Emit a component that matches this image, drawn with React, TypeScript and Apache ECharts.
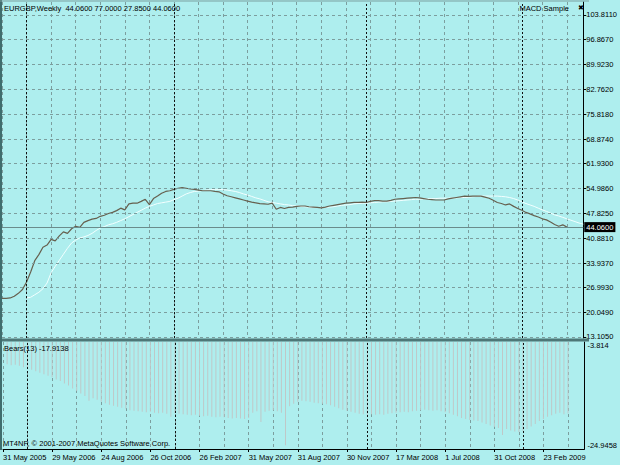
import React, { useEffect, useRef } from 'react';
import * as echarts from 'echarts';

const N = 143;
const dateLabels = ['31 May 2005', '29 May 2006', '24 Aug 2006', '26 Oct 2006', '26 Feb 2007', '31 May 2007', '31 Aug 2007', '30 Nov 2007', '17 Mar 2008', '1 Jul 2008', '31 Oct 2008', '23 Feb 2009'];
const yTicks = [13.105, 20.049, 26.993, 33.937, 40.881, 47.825, 54.986, 61.93, 68.874, 75.818, 82.762, 89.923, 96.867, 103.811];
const bearsTicks = [-3.814, -24.9458];
const lastPrice = 44.06;
const ohlc = ['44.0600', '77.0000', '27.8500', '44.0600'];

// close prices, from bar 0
const price = [
  24.0, 24.0, 24.1, 24.6, 25.4, 26.5, 28.6, 31.4, 34.6, 36.3,
  38.4, 39.0, 40.6, 40.2, 41.6, 42.7, 42.3, 43.6, 44.3, 44.0,
  45.4, 45.9, 46.3, 46.5, 47.1, 47.4, 47.9, 48.2, 48.7, 49.4,
  48.9, 50.6, 50.8, 50.8, 51.3, 51.9, 50.4, 52.1, 52.8, 53.6,
  54.1, 54.3, 54.7, 55.0, 55.2, 55.0, 54.8, 54.7, 54.5, 54.3,
  54.3, 54.3, 54.1, 54.0, 53.4, 52.9, 52.6, 52.3, 52.0, 51.7,
  51.4, 51.1, 50.9, 50.7, 50.6, 50.5, 50.8, 49.1, 49.6, 49.3,
  49.6, 49.7, 49.9, 50.0, 50.0, 49.8, 49.7, 49.6, 49.5, 49.7,
  50.0, 50.2, 50.4, 50.6, 50.8, 50.9, 51.0, 51.0, 51.1, 51.0,
  51.3, 51.5, 51.5, 51.4, 51.4, 51.6, 51.9, 52.0, 52.1, 52.2,
  52.3, 52.4, 52.3, 52.1, 51.9, 51.8, 51.7, 51.7, 51.7, 52.0,
  52.2, 52.4, 52.6, 52.8, 52.7, 52.8, 52.8, 52.8, 52.5, 52.2,
  51.6, 51.0, 50.7, 50.3, 50.6, 49.9, 49.3, 48.8, 48.2, 47.8,
  47.3, 46.9, 46.4, 46.1, 45.5, 44.8, 44.3, 44.7, 44.06,
];

// moving average, from bar 6
const maStart = 6;
const maLine = [
  24.1, 24.3, 25.0, 25.7, 26.7, 28.3, 31.2, 33.0, 34.7, 36.4,
  38.1, 39.6, 40.4, 41.0, 41.3, 41.7, 42.3, 43.1, 43.8, 44.2,
  44.7, 45.0, 45.4, 45.9, 46.4, 47.0, 47.6, 48.2, 48.8, 49.4,
  49.9, 50.3, 50.7, 50.9, 51.1, 51.3, 51.8, 52.2, 52.8, 53.4,
  53.8, 54.1, 54.2, 54.4, 54.5, 54.6, 54.7, 54.7, 54.6, 54.5,
  54.3, 54.1, 53.8, 53.4, 53.1, 52.7, 52.3, 52.0, 51.6, 51.2,
  51.0, 50.8, 50.6, 50.4, 50.3, 50.1, 50.0, 49.9, 49.8, 49.7,
  49.6, 49.6, 49.6, 49.6, 49.7, 49.8, 50.0, 50.2, 50.3, 50.4,
  50.6, 50.7, 50.8, 50.8, 50.9, 51.0, 51.1, 51.2, 51.2, 51.3,
  51.4, 51.5, 51.6, 51.7, 51.8, 51.9, 51.9, 52.0, 52.0, 52.1,
  52.1, 52.2, 52.2, 52.2, 52.3, 52.3, 52.4, 52.4, 52.5, 52.6,
  52.7, 52.8, 52.8, 52.8, 52.8, 52.8, 52.7, 52.6, 52.4, 52.1,
  51.7, 51.2, 50.7, 50.3, 49.9, 49.4, 48.9, 48.5, 48.0, 47.5,
  47.2, 46.8, 46.4, 46.0, 45.6, 45.2, 44.9,
];

// Bears Power(13), from bar 1
const bearsStart = 1;
const bears = [
  -8.2, -8.4, -8.3, -8.5, -8.8, -9.0, -9.3, -9.6, -9.9, -10.2,
  -10.5, -10.8, -11.2, -11.5, -12.0, -12.4, -13.0, -13.5, -14.0, -14.5,
  -15.4, -14.9, -15.2, -15.6, -15.9, -16.2, -16.4, -16.6, -16.8, -17.0,
  -17.3, -17.4, -17.5, -17.6, -17.7, -17.6, -17.8, -17.9, -17.8, -18.0,
  -18.6, -17.9, -18.0, -18.1, -18.2, -18.3, -18.2, -18.4, -18.5, -18.4,
  -18.6, -18.7, -18.6, -18.7, -18.8, -18.9, -18.8, -18.9, -19.0, -18.8,
  -17.8, -17.5, -19.6, -17.6, -17.4, -17.3, -17.5, -17.8, -24.2, -16.5,
  -16.0, -15.6, -15.4, -15.5, -15.6, -15.8, -15.9, -16.0, -16.1, -16.3,
  -16.6, -16.9, -17.2, -17.4, -17.6, -17.8, -18.0, -18.1, -18.2, -18.1,
  -18.2, -18.1, -18.2, -18.0, -17.9, -17.8, -17.7, -17.6, -17.7, -17.5,
  -17.4, -17.3, -17.2, -17.3, -17.4, -17.3, -17.5, -17.7, -17.9, -18.2,
  -18.5, -18.8, -19.0, -19.2, -19.3, -19.4, -19.7, -20.0, -20.3, -20.6,
  -20.8, -22.2, -21.0, -21.3, -21.5, -21.6, -21.4, -21.0, -20.5, -20.0,
  -19.4, -19.0, -18.6, -18.3, -18.0, -17.8, -18.1, -17.9138,
];

// period separators (bar index)
const separators = [6, 42, 89, 127];

const FONT = "'Liberation Sans', Arial, sans-serif";
const BG = '#aeeeee';
const GRID = '#7c9e9e';
const SEP = { color: '#111', type: [2, 2], width: 1 };

export default function App() {
  const ref = useRef<HTMLDivElement>(null);
  useEffect(() => {
    const chart = echarts.init(ref.current!, null, { renderer: 'svg' });
    const categories = Array.from({ length: N }, (_, i) => String(i));
    const pad = (arr: number[], start: number) => {
      const out: (number | null)[] = new Array(N).fill(null);
      arr.forEach((v, k) => { out[start + k] = v; });
      return out;
    };
    const txt = (extra: any) => ({ fontSize: 7.5, fontWeight: 'normal', color: '#000', fontFamily: FONT, ...extra });
    const sepLines = separators.map((s) => ({ xAxis: s }));
    const option: any = {
      animation: false,
      backgroundColor: BG,
      title: [
        { text: `EURGBP,Weekly  ${ohlc.join(' ')}`, left: 4, top: 4, padding: 0, textStyle: txt({}) },
        { text: 'MACD Sample', right: 51, top: 4, padding: 0, textStyle: txt({}) },
        { text: '✖', left: 578, top: 4, padding: 0, textStyle: txt({ fontSize: 7, fontFamily: "'DejaVu Sans', sans-serif" }) },
        { text: `Bears(13) ${bears[bears.length - 1]}`, left: 4, top: 344, padding: 0, textStyle: txt({}) },
        { text: 'MT4NP, © 2001-2007 MetaQuotes Software Corp.', left: 3, top: 439, padding: 0, textStyle: txt({}) },
      ],
      grid: [
        { left: 2, right: 31, top: 2, height: 336 },
        { left: 2, right: 31, top: 342, height: 107 },
      ],
      xAxis: [
        {
          gridIndex: 0, type: 'category', data: categories, boundaryGap: false,
          axisLine: { show: false }, axisTick: { show: false }, axisLabel: { show: false },
          splitLine: { show: true, interval: 5, lineStyle: { color: GRID, type: [3, 3], width: 1 } },
        },
        {
          gridIndex: 1, type: 'category', data: categories, boundaryGap: false,
          axisLine: { show: true, lineStyle: { color: '#000', width: 1 } },
          axisTick: { show: true, interval: 11, length: 3, lineStyle: { color: '#000' } },
          axisLabel: {
            interval: 11, align: 'left', margin: 4, fontSize: 7.5, color: '#000', fontFamily: FONT,
            formatter: (_v: string, i: number) => (i % 12 === 0 ? dateLabels[i / 12] ?? '' : ''),
          },
          splitLine: { show: true, interval: 5, lineStyle: { color: GRID, type: [3, 3], width: 1 } },
        },
      ],
      yAxis: [
        {
          gridIndex: 0, type: 'value', position: 'right', min: 12.823, max: 107.47,
          splitLine: { show: false },
          axisLine: { show: true, lineStyle: { color: '#000' } },
          axisTick: { show: true, customValues: yTicks, length: 3, lineStyle: { color: '#000' } },
          axisLabel: {
            customValues: yTicks, margin: 3, fontSize: 7.5, color: '#000', fontFamily: FONT,
            formatter: (v: number) => v.toFixed(4),
          },
        },
        {
          gridIndex: 1, type: 'value', position: 'right', min: bearsTicks[1], max: bearsTicks[0],
          splitLine: { show: false },
          axisLine: { show: true, lineStyle: { color: '#000' } },
          axisTick: { show: false },
          axisLabel: {
            customValues: bearsTicks, margin: 3, fontSize: 7.5, color: '#000', fontFamily: FONT,
            formatter: (v: number) => (v > -10 ? `{t|${v}}` : `{b|${v}}`),
            rich: {
              t: { fontSize: 7.5, fontFamily: FONT, color: '#000', padding: [7, 0, 0, 0] },
              b: { fontSize: 7.5, fontFamily: FONT, color: '#000', padding: [0, 0, 7, 0] },
            },
          },
        },
      ],
      graphic: [
        { type: 'line', shape: { x1: 1, y1: 0, x2: 1, y2: 450 }, style: { stroke: '#3f6d6d', lineWidth: 2 }, z: 50 },
        { type: 'line', shape: { x1: 0, y1: 1, x2: 589, y2: 1 }, style: { stroke: '#7a9f9f', lineWidth: 1 }, z: 50 },
        { type: 'rect', shape: { x: 2, y: 338.5, width: 587, height: 3 }, style: { fill: '#4d7777' }, z: 50 },
      ],
      series: [
        {
          name: 'MA', type: 'line', xAxisIndex: 0, yAxisIndex: 0, z: 2,
          data: pad(maLine, maStart), showSymbol: false, connectNulls: false,
          lineStyle: { color: '#f2ffff', width: 1 },
          markLine: {
            silent: true, symbol: 'none', animation: false,
            label: { show: false },
            data: [
              ...yTicks.map((v) => ({ yAxis: v, lineStyle: { color: GRID, type: [3, 3], width: 1 } })),
              ...separators.map((s) => ({ xAxis: s, lineStyle: SEP })),
            ],
          },
        },
        {
          name: 'Close', type: 'line', xAxisIndex: 0, yAxisIndex: 0, z: 3,
          data: pad(price, 0), showSymbol: false,
          lineStyle: { color: '#66604f', width: 1.2 },
          markLine: {
            silent: true, symbol: 'none', animation: false,
            data: [{ yAxis: lastPrice }],
            lineStyle: { color: '#6a8c8c', type: 'solid', width: 1 },
            label: {
              show: true, position: 'end', distance: 1, formatter: lastPrice.toFixed(4),
              color: '#fff', backgroundColor: '#000', padding: [1, 2, 1, 2], fontSize: 7.5, fontFamily: FONT,
            },
          },
        },
        {
          name: 'Bears', type: 'bar', xAxisIndex: 1, yAxisIndex: 1, z: 2,
          data: pad(bears, bearsStart), barWidth: 1,
          itemStyle: { color: '#bfc8c8' },
          markLine: {
            silent: true, symbol: 'none', animation: false, label: { show: false },
            lineStyle: SEP,
            data: sepLines,
          },
        },
      ],
    };
    chart.setOption(option);
    return () => chart.dispose();
  }, []);
  return <div ref={ref} style={{ position: 'fixed', left: 0, top: 0, width: 620, height: 465 }} />;
}
